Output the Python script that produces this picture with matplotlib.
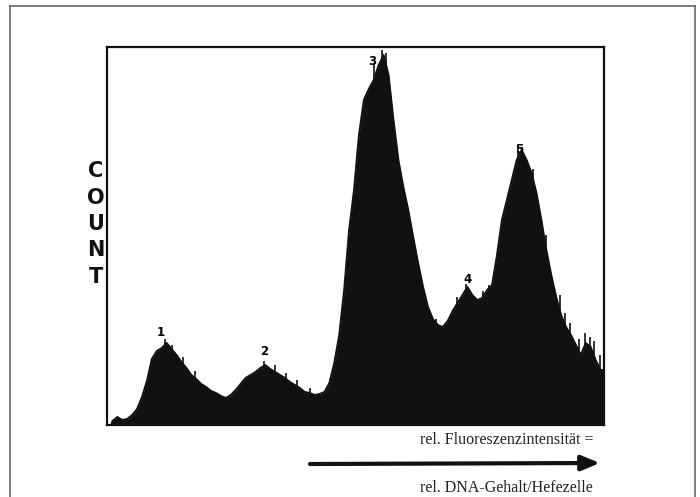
import numpy as np
import matplotlib
matplotlib.use("Agg")
import matplotlib.pyplot as plt
from matplotlib.lines import Line2D

# DNA histogram of yeast cells (counts per channel)
counts = [4, 8, 5, 6, 10, 16, 28, 44, 66, 74,
          77, 82, 76, 70, 63, 57, 50, 46, 41, 38,
          34, 32, 29, 27, 30, 35, 41, 47, 50, 53,
          57, 60, 56, 53, 50, 47, 43, 40, 37, 33,
          32, 30, 31, 33, 42, 62, 90, 135, 195, 235,
          290, 325, 336, 345, 360, 370, 350, 305, 265, 238,
          215, 188, 162, 138, 118, 106, 100, 98, 104, 114,
          122, 130, 138, 130, 125, 127, 135, 140, 170, 205,
          225, 245, 265, 275, 265, 252, 232, 205, 175, 150,
          128, 110, 98, 90, 80, 70, 82, 78, 65, 55]

# thin spikes on top of the histogram: (channel, height)
spike_ch = [11.2, 12.6, 14.8, 17.3, 31.3, 33.4, 35.8, 37.9, 40.6, 53.6,
            55.2, 56.0, 66.1, 70.4, 72.2, 75.6, 76.9, 82.8, 83.6, 85.9,
            88.5, 91.2, 92.3, 93.4, 95.1, 96.3, 97.4, 98.2, 99.3]
spike_h = [86, 80, 68, 54, 64, 60, 52, 45, 37, 362,
           375, 372, 106, 128, 141, 134, 140, 280, 278, 256,
           190, 130, 112, 102, 86, 92, 88, 84, 70]

# peak numbers: (channel, height)
peak_labels = ["1", "2", "3", "4", "5"]
peak_ch = [10.3, 31.2, 53.2, 72.5, 83.0]
peak_h = [86, 67, 357, 139, 269]

fig = plt.figure(figsize=(7, 4.97), dpi=100)

# outer frame of the scanned page (no bottom edge visible)
x0, x1, ytop = 10 / 700, 695 / 700, 1 - 6 / 497
for xs, ys in [([x0, x0], [0, ytop]), ([x0, x1], [ytop, ytop]), ([x1, x1], [ytop, 0])]:
    fig.add_artist(Line2D(xs, ys, transform=fig.transFigure, color="#666666", lw=1.2))

ax = fig.add_axes([107 / 700, 1 - 425 / 497, 497 / 700, 378 / 497])

centres = np.arange(len(counts)) + 0.5
xs = np.concatenate([[0.3], centres, [len(counts)]])
ys = np.concatenate([[0], counts, [counts[-1]]])
ax.fill_between(xs, 0, ys, color="#111111", lw=0)
ax.plot(xs, ys, color="#111111", lw=1.4)
ax.vlines(spike_ch, 0, spike_h, color="#111111", lw=1.2)

for lab, cx, cy in zip(peak_labels, peak_ch, peak_h):
    ax.text(cx, cy, lab, ha="center", va="bottom", fontsize=8.5,
            fontweight="bold", family="DejaVu Sans")

ax.set_xlim(-0.6, len(counts) + 0.2)
ax.set_ylim(0, 378)
ax.set_xticks([])
ax.set_yticks([])
for s in ax.spines.values():
    s.set_linewidth(1.6)
    s.set_color("#111111")

# vertical "COUNT" label
for i, ch in enumerate("COUNT"):
    fig.text(96 / 700, 1 - (171 + i * 26.5) / 497, ch, ha="center", va="center",
             fontsize=15, fontweight="heavy", family="DejaVu Sans", color="#111111")

# axis caption with arrow
fig.text(593 / 700, 1 - 440 / 497, "rel. Fluoreszenzintensität =", ha="right", va="center",
         fontsize=11.5, family="Liberation Serif", color="#222222")
fig.text(593 / 700, 1 - 488 / 497, "rel. DNA-Gehalt/Hefezelle", ha="right", va="center",
         fontsize=11.5, family="Liberation Serif", color="#222222")
ax.annotate("", xy=(600 / 700, 1 - 463 / 497), xytext=(310 / 700, 1 - 464 / 497),
            xycoords="figure fraction", textcoords="figure fraction",
            arrowprops=dict(arrowstyle="-|>,head_length=1.1,head_width=0.45",
                            lw=3, color="#111111", shrinkA=0, shrinkB=0),
            annotation_clip=False)

fig.savefig("out.png", dpi=100)
